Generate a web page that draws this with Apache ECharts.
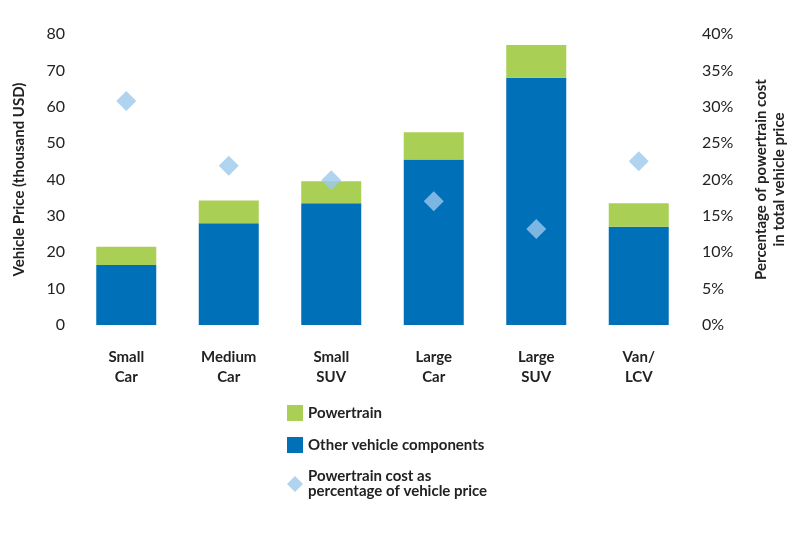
<!DOCTYPE html>
<html>
<head>
<meta charset="utf-8">
<script src="https://cdn.jsdelivr.net/npm/echarts@6/dist/echarts.min.js"></script>
<style>html,body{margin:0;padding:0;background:#fff}#main{width:800px;height:533px}</style>
</head>
<body>
<div id="main"></div>
<script>
// 数据
var categories = ['Small\nCar', 'Medium\nCar', 'Small\nSUV', 'Large\nCar', 'Large\nSUV', 'Van/\nLCV'];
var otherComponents = [16.5, 28, 33.5, 45.5, 68, 27];
var powertrain = [5, 6.2, 6, 7.5, 9, 6.5];
var powertrainShare = [30.8, 21.9, 19.9, 17.0, 13.2, 22.5];

var font = 'Lato, "Open Sans", sans-serif';
var chart = echarts.init(document.getElementById('main'));
chart.setOption({
  textStyle: { fontFamily: font },
  grid: { left: 75, right: 110, top: 34, bottom: 208 },
  legend: {
    orient: 'vertical',
    left: 282, top: 400,
    itemGap: 16, itemWidth: 16, itemHeight: 16,
    textStyle: { fontFamily: font, fontSize: 15, fontWeight: 'bold', color: '#222' },
    data: [
      { name: 'Powertrain', icon: 'rect' },
      { name: 'Other vehicle components', icon: 'rect' },
      { name: 'Powertrain cost as\npercentage of vehicle price', icon: 'diamond' }
    ]
  },
  xAxis: {
    type: 'category',
    data: categories,
    axisLine: { show: false },
    axisTick: { show: false },
    axisLabel: { margin: 22, fontSize: 15, fontWeight: 'bold', color: '#222', lineHeight: 20, fontFamily: font }
  },
  yAxis: [
    {
      type: 'value', min: 0, max: 80, interval: 10,
      name: 'Vehicle Price (thousand USD)', nameLocation: 'middle', nameGap: 48,
      nameTextStyle: { fontSize: 15, fontWeight: 'bold', color: '#222', fontFamily: font },
      splitLine: { show: false },
      axisLabel: { fontSize: 16, color: '#222', margin: 10 }
    },
    {
      type: 'value', min: 0, max: 40, interval: 5,
      name: 'Percentage of powertrain cost\nin total vehicle price', nameLocation: 'middle', nameGap: 62,
      nameRotate: 90,
      nameTextStyle: { fontSize: 15, fontWeight: 'bold', color: '#222', lineHeight: 18, fontFamily: font },
      splitLine: { show: false },
      axisLabel: { fontSize: 16, color: '#222', formatter: '{value}%', margin: 12 }
    }
  ],
  series: [
    {
      name: 'Other vehicle components', type: 'bar', stack: 'price',
      barWidth: 60, itemStyle: { color: '#0070b8' }, data: otherComponents
    },
    {
      name: 'Powertrain', type: 'bar', stack: 'price',
      barWidth: 60, itemStyle: { color: '#a9cf54' }, data: powertrain
    },
    {
      name: 'Powertrain cost as\npercentage of vehicle price', type: 'scatter', yAxisIndex: 1,
      symbol: 'diamond', symbolSize: 20, itemStyle: { color: '#9cc8ec' }, data: powertrainShare, z: 5
    }
  ]
});
</script>
</body>
</html>
